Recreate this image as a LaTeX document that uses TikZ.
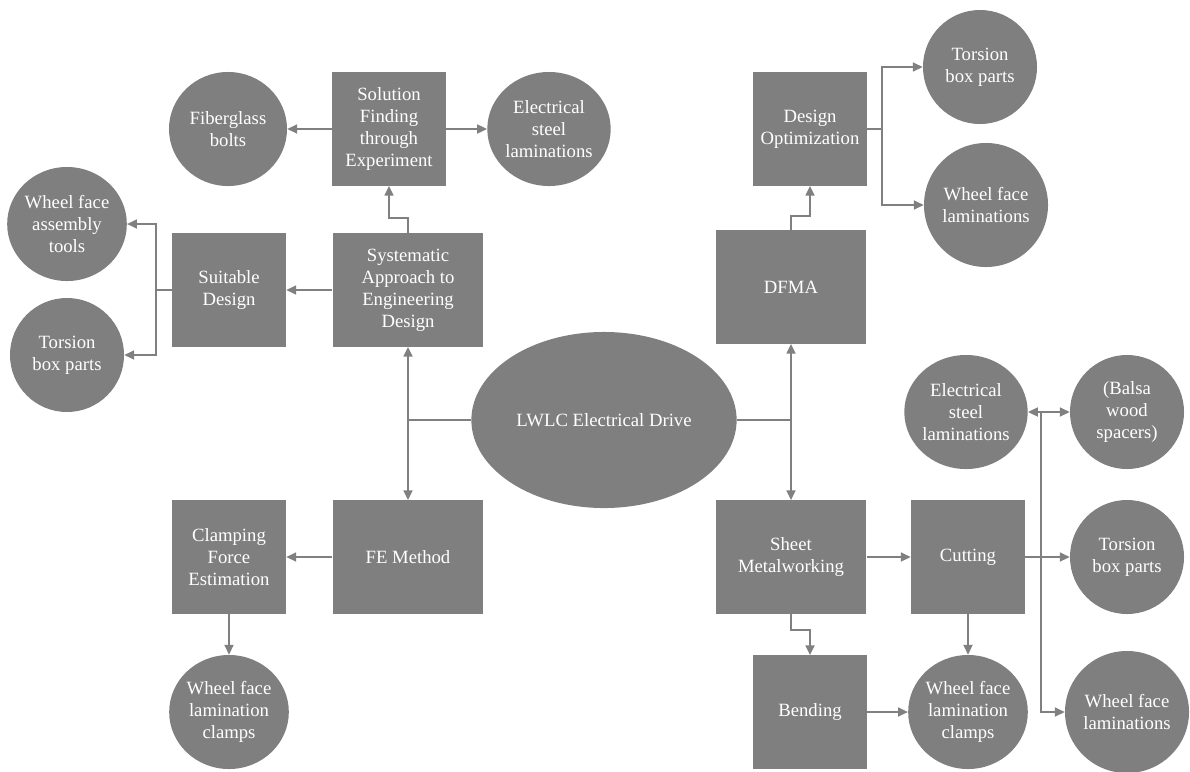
\documentclass[tikz,border=0pt]{standalone}
\usepackage{fontspec}
\setmainfont{Liberation Serif}
\usetikzlibrary{arrows.meta,shapes.geometric}
\definecolor{boxgray}{HTML}{7F7F7F}
\definecolor{linegray}{HTML}{808080}

\begin{document}
\begin{tikzpicture}[x=0.025cm,y=-0.025cm,
  >={Triangle[length=7pt,width=6.4pt]},
  font=\fontsize{13.3}{15.6}\selectfont,
  block/.style={rectangle,fill=boxgray,text=white,align=center,inner sep=0pt,
    minimum width=2.85cm,minimum height=2.83cm},
  wideblock/.style={block,minimum width=3.77cm},
  blob/.style={ellipse,fill=boxgray,text=white,align=center,inner sep=0pt,
    minimum width=2.85cm,minimum height=2.85cm},
  link/.style={draw=linegray,line width=1.2pt}]
        \useasboundingbox (0,0) rectangle (1190,771);
        % Centre
        \node[ellipse,fill=boxgray,text=white,minimum width=6.63cm,minimum height=4.4cm] (drive) at (604,420) {LWLC Electrical Drive};
        % Left half
        \node[block] (sol) at (389,129) {Solution\\Finding\\through\\Experiment};
        \node[blob,minimum width=2.95cm] (fiber) at (228,129) {Fiberglass\\bolts};
        \node[blob,minimum width=2.95cm] (elecT) at (549,129) {Electrical\\steel\\laminations};
        \node[wideblock] (sys) at (408,290) {Systematic\\Approach to\\Engineering\\Design};
        \node[block] (suit) at (229,290) {Suitable\\Design};
        \node[blob] (tools) at (67,224) {Wheel face\\assembly\\tools};
        \node[blob] (torsL) at (67,355) {Torsion\\box parts};
        \node[wideblock] (fe) at (408,557) {FE Method};
        \node[block] (clamp) at (229,557) {Clamping\\Force\\Estimation};
        \node[blob] (clampsL) at (229,712) {Wheel face\\lamination\\clamps};
        % Right half
        \node[wideblock] (dfma) at (791,287) {DFMA};
        \node[block] (dopt) at (810,129) {Design\\Optimization};
        \node[blob] (torsT) at (980,67) {Torsion\\box parts};
        \node[blob,minimum width=3.1cm,minimum height=3.1cm] (wflT) at (986,205) {Wheel face\\laminations};
        \node[wideblock] (sheet) at (791,557) {Sheet\\Metalworking};
        \node[block] (cut) at (968,557) {Cutting};
        \node[block] (bend) at (810,712) {Bending};
        \node[blob] (clampsR) at (968,712) {Wheel face\\lamination\\clamps};
        \node[blob] (elecR) at (966,412) {Electrical\\steel\\laminations};
        \node[blob] (balsa) at (1127,412) {(Balsa\\wood\\spacers)};
        \node[blob] (torsR) at (1127,557) {Torsion\\box parts};
        \node[blob,minimum width=3.1cm,minimum height=3.05cm] (wflB) at (1127,712) {Wheel face\\laminations};
        % Junctions
        \coordinate (lj) at (drive.west -| sys.south);
        \coordinate (rj) at (drive.east -| dfma.south);
        \coordinate (sj) at ([xshift=-16*0.025cm]suit.west);
        \coordinate (oj) at ([xshift=15*0.025cm]dopt.east);
        \coordinate (cj) at ([xshift=16*0.025cm]cut.east);
        % Connectors, left
        \draw[link] (drive.west) -- (lj);
        \draw[link,->] (lj) -- (sys.south);
        \draw[link,->] (lj) -- (fe.north);
        \draw[link,->] (sys.north) -- ++(0,-15) -| (sol.south);
        \draw[link,->] (sol.west) -- (fiber.east);
        \draw[link,->] (sol.east) -- (elecT.west);
        \draw[link,->] (sys.west) -- (suit.east);
        \draw[link] (suit.west) -- (sj);
        \draw[link,->] (sj) |- (tools.east);
        \draw[link,->] (sj) |- (torsL.east);
        \draw[link,->] (fe.west) -- (clamp.east);
        \draw[link,->] (clamp.south) -- (clampsL.north);
        % Connectors, right
        \draw[link] (drive.east) -- (rj);
        \draw[link,->] (rj) -- (dfma.south);
        \draw[link,->] (rj) -- (sheet.north);
        \draw[link,->] (dfma.north) -- ++(0,-14) -| (dopt.south);
        \draw[link] (dopt.east) -- (oj);
        \draw[link,->] (oj) |- (torsT.west);
        \draw[link,->] (oj) |- (wflT.west);
        \draw[link,->] (sheet.east) -- (cut.west);
        \draw[link,->] (sheet.south) -- ++(0,16) -| (bend.north);
        \draw[link,->] (cut.south) -- (clampsR.north);
        \draw[link,->] (bend.east) -- (clampsR.west);
        \draw[link,->] (cut.east) -- (torsR.west);
        \draw[link,->] (cj) |- (elecR.east);
        \draw[link,->] (cj) |- (balsa.west);
        \draw[link,->] (cj) |- (wflB.west);
      \end{tikzpicture}
\end{document}
